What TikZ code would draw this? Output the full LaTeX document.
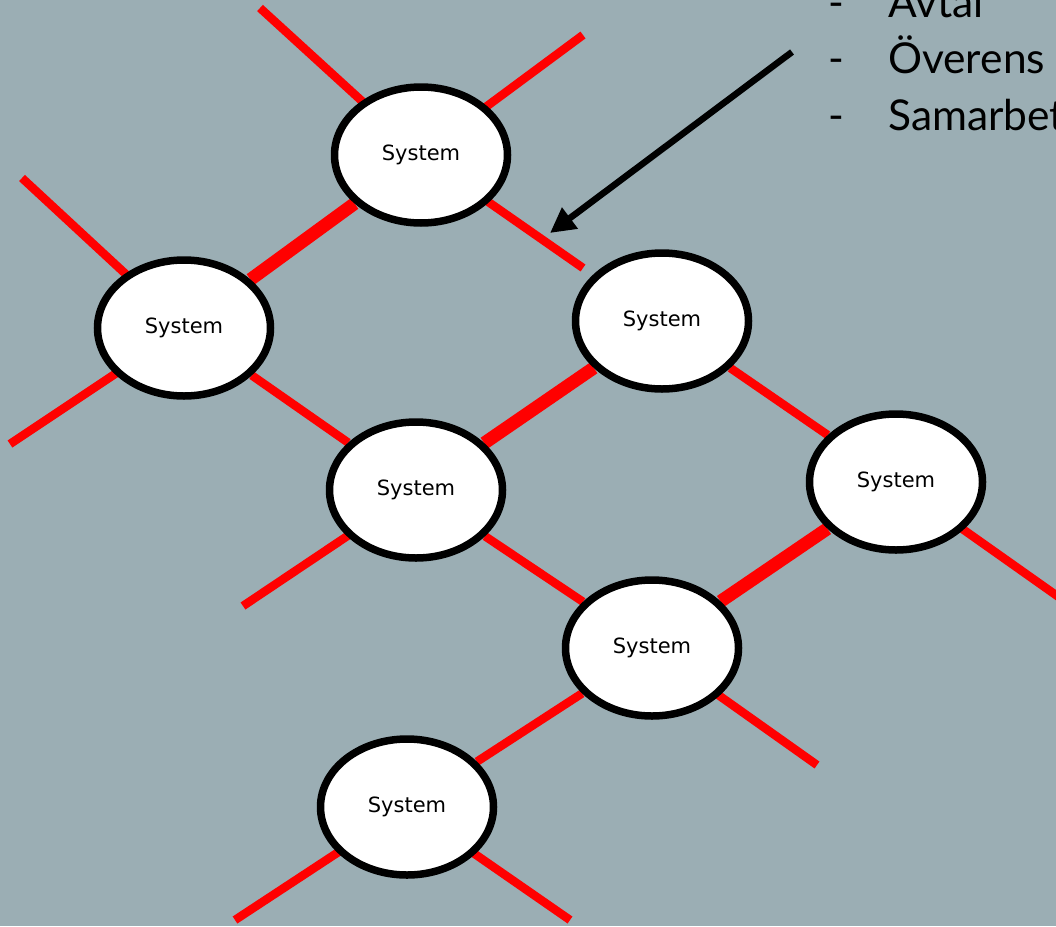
\documentclass[tikz,border=0pt]{standalone}
\usepackage{fontspec}
\setmainfont{DejaVu Sans}
\newfontfamily\listfont{Lato}
\usetikzlibrary{shapes.geometric,arrows.meta}
\definecolor{bgc}{RGB}{155,174,180}
\pgfdeclarelayer{bg}
\pgfdeclarelayer{edges}
\pgfsetlayers{bg,edges,main}
\begin{document}
\begin{tikzpicture}[x=1pt,y=-1pt,
  sys/.style={ellipse,draw=black,fill=white,line width=7.5pt,minimum width=173pt,minimum height=136pt,inner sep=0pt,font=\fontsize{21}{24}\selectfont},
  link/.style={draw=red,line width=8.5pt},
  strong/.style={draw=red,line width=13pt},
  item/.style={anchor=base west,inner sep=0pt,font=\listfont\fontsize{42.5}{50}\selectfont},
  pointer/.style={draw=black,line width=6.5pt,-{Triangle[length=25pt,width=25pt]}}]
\useasboundingbox (0,0) rectangle (1056,926);
\begin{pgfonlayer}{bg}
\fill[bgc] (0,0) rectangle (1056,926);
\end{pgfonlayer}
\clip (0,0) rectangle (1056,926);
% systems
\node[sys] (s1) at (421,155) {System};
\node[sys] (s2) at (184,328) {System};
\node[sys] (s3) at (662,321) {System};
\node[sys] (s4) at (416,490) {System};
\node[sys] (s5) at (896,482) {System};
\node[sys] (s6) at (652,648) {System};
\node[sys] (s7) at (407,807) {System};
% free ends
\coordinate (t1) at (260,8);
\coordinate (t2) at (583,35);
\coordinate (t3) at (583,268);
\coordinate (t4) at (22,178);
\coordinate (t5) at (10,444);
\coordinate (t6) at (243,606);
\coordinate (t7) at (1070,605);
\coordinate (t8) at (817,765);
\coordinate (t9) at (235,920);
\coordinate (t10) at (570,920);
\begin{pgfonlayer}{edges}
\draw[strong] (s1) -- (s2);
\draw[strong] (s3) -- (s4);
\draw[strong] (s5) -- (s6);
\draw[link] (s2) -- (s4);
\draw[link] (s3) -- (s5);
\draw[link] (s4) -- (s6);
\draw[link] (s6) -- (s7);
\draw[link] (s1.center) -- (t1);
\draw[link] (s1.center) -- (t2);
\draw[link] (s1.center) -- (t3);
\draw[link] (s2.center) -- (t4);
\draw[link] (s2.center) -- (t5);
\draw[link] (s4.center) -- (t6);
\draw[link] (s5.center) -- (t7);
\draw[link] (s6.center) -- (t8);
\draw[link] (s7.center) -- (t9);
\draw[link] (s7.center) -- (t10);
\end{pgfonlayer}
% list
\node[item] (d1) at (828,17) {-};
\node[item] (l1) at (888,17) {Avtal};
\node[item] (d2) at (828,73) {-};
\node[item] (l2) at (888,73) {Överens};
\node[item] (d3) at (828,130) {-};
\node[item] (l3) at (888,130) {Samarbet};
% arrow
\coordinate (a0) at (792,52);
\coordinate (a1) at (550,233);
\draw[pointer] (a0) -- (a1);
\end{tikzpicture}
\end{document}
